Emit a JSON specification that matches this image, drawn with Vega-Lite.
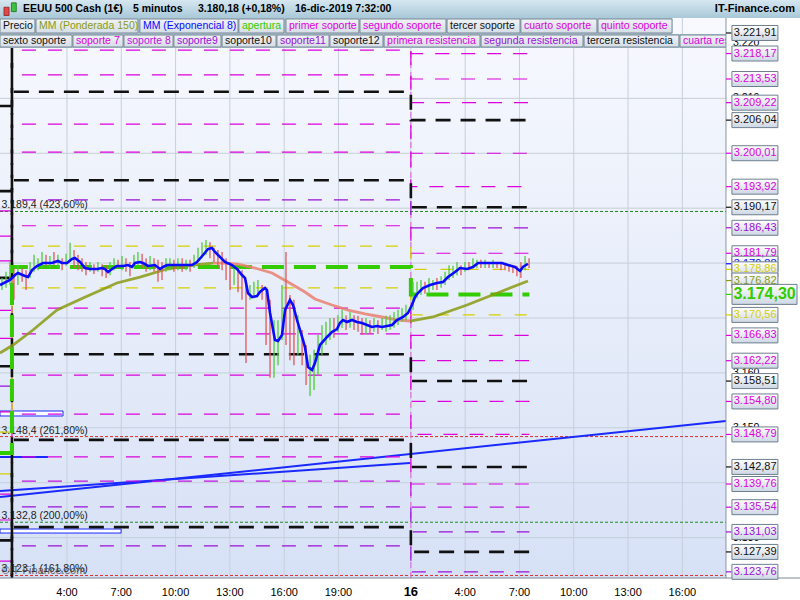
{
"$schema":"https://vega.github.io/schema/vega-lite/v6.json",
"width":800,"height":578,
"autosize":{"type":"none"},
"padding":{"left":0,"top":0,"right":0,"bottom":22},
"background":"#ffffff",
"config":{"view":{"stroke":null},"font":"Liberation Sans"},
"datasets":{
"one":[{}],
"barras":[
{"t":0.41,"hi":3177.3,"lo":3175.1,"d":"sube"},{"t":0.63,"hi":3178.4,"lo":3175.5,"d":"sube"},{"t":0.85,"hi":3180.2,"lo":3176.0,"d":"sube"},{"t":1.07,"hi":3179.1,"lo":3173.3,"d":"baja"},{"t":1.29,"hi":3179.6,"lo":3176.0,"d":"sube"},{"t":1.52,"hi":3179.1,"lo":3176.6,"d":"baja"},{"t":1.74,"hi":3178.7,"lo":3175.1,"d":"baja"},{"t":1.96,"hi":3180.2,"lo":3177.3,"d":"sube"},{"t":2.18,"hi":3181.5,"lo":3178.4,"d":"sube"},{"t":2.40,"hi":3180.9,"lo":3178.7,"d":"sube"},{"t":2.62,"hi":3182.0,"lo":3179.1,"d":"sube"},{"t":2.84,"hi":3181.5,"lo":3179.5,"d":"baja"},{"t":3.06,"hi":3181.3,"lo":3179.1,"d":"sube"},{"t":3.28,"hi":3182.0,"lo":3179.6,"d":"baja"},{"t":3.50,"hi":3181.5,"lo":3179.1,"d":"sube"},{"t":3.73,"hi":3180.9,"lo":3178.7,"d":"baja"},{"t":3.95,"hi":3181.7,"lo":3179.5,"d":"sube"},{"t":4.17,"hi":3183.7,"lo":3180.2,"d":"sube"},{"t":4.39,"hi":3182.4,"lo":3179.1,"d":"baja"},{"t":4.61,"hi":3181.5,"lo":3178.7,"d":"baja"},{"t":4.83,"hi":3180.9,"lo":3178.4,"d":"baja"},{"t":5.05,"hi":3180.2,"lo":3177.8,"d":"baja"},{"t":5.27,"hi":3180.2,"lo":3178.4,"d":"sube"},{"t":5.49,"hi":3179.8,"lo":3178.0,"d":"baja"},{"t":5.71,"hi":3180.2,"lo":3178.4,"d":"sube"},{"t":5.94,"hi":3179.8,"lo":3177.6,"d":"baja"},{"t":6.16,"hi":3179.6,"lo":3177.3,"d":"baja"},{"t":6.38,"hi":3180.2,"lo":3177.8,"d":"sube"},{"t":6.60,"hi":3180.9,"lo":3178.7,"d":"sube"},{"t":6.82,"hi":3180.6,"lo":3179.1,"d":"baja"},{"t":7.04,"hi":3181.3,"lo":3178.7,"d":"sube"},{"t":7.26,"hi":3180.9,"lo":3178.4,"d":"baja"},{"t":7.48,"hi":3180.2,"lo":3177.6,"d":"baja"},{"t":7.70,"hi":3181.5,"lo":3179.1,"d":"sube"},{"t":7.92,"hi":3182.0,"lo":3179.5,"d":"sube"},{"t":8.15,"hi":3181.7,"lo":3179.1,"d":"baja"},{"t":8.37,"hi":3180.9,"lo":3178.4,"d":"baja"},{"t":8.59,"hi":3181.3,"lo":3178.7,"d":"sube"},{"t":8.81,"hi":3180.9,"lo":3178.4,"d":"baja"},{"t":9.03,"hi":3180.6,"lo":3176.6,"d":"baja"},{"t":9.25,"hi":3180.2,"lo":3176.9,"d":"baja"},{"t":9.47,"hi":3180.9,"lo":3178.4,"d":"sube"},{"t":9.69,"hi":3180.9,"lo":3178.7,"d":"sube"},{"t":9.91,"hi":3180.6,"lo":3178.4,"d":"baja"},{"t":10.13,"hi":3180.9,"lo":3178.7,"d":"sube"},{"t":10.36,"hi":3180.9,"lo":3178.4,"d":"baja"},{"t":10.58,"hi":3180.6,"lo":3178.7,"d":"sube"},{"t":10.80,"hi":3180.6,"lo":3178.4,"d":"baja"},{"t":11.02,"hi":3181.5,"lo":3179.1,"d":"sube"},{"t":11.24,"hi":3182.8,"lo":3180.2,"d":"sube"},{"t":11.46,"hi":3183.8,"lo":3180.9,"d":"sube"},{"t":11.68,"hi":3184.2,"lo":3181.5,"d":"sube"},{"t":11.90,"hi":3183.8,"lo":3180.9,"d":"baja"},{"t":12.12,"hi":3182.8,"lo":3180.2,"d":"baja"},{"t":12.34,"hi":3182.4,"lo":3179.1,"d":"baja"},{"t":12.57,"hi":3182.0,"lo":3178.7,"d":"baja"},{"t":12.79,"hi":3180.9,"lo":3176.9,"d":"baja"},{"t":13.01,"hi":3180.2,"lo":3175.1,"d":"baja"},{"t":13.23,"hi":3179.6,"lo":3176.0,"d":"sube"},{"t":13.45,"hi":3179.1,"lo":3174.7,"d":"baja"},{"t":13.67,"hi":3178.7,"lo":3173.3,"d":"baja"},{"t":13.89,"hi":3176.9,"lo":3161.8,"d":"baja"},{"t":14.11,"hi":3176.0,"lo":3173.3,"d":"sube"},{"t":14.33,"hi":3176.6,"lo":3173.6,"d":"sube"},{"t":14.55,"hi":3176.9,"lo":3174.2,"d":"sube"},{"t":14.78,"hi":3176.0,"lo":3173.3,"d":"baja"},{"t":15.00,"hi":3175.1,"lo":3165.1,"d":"baja"},{"t":15.22,"hi":3173.3,"lo":3159.1,"d":"baja"},{"t":15.44,"hi":3169.6,"lo":3159.1,"d":"sube"},{"t":15.66,"hi":3169.6,"lo":3161.4,"d":"sube"},{"t":15.88,"hi":3176.0,"lo":3166.0,"d":"sube"},{"t":16.10,"hi":3182.0,"lo":3165.1,"d":"baja"},{"t":16.32,"hi":3174.2,"lo":3162.3,"d":"baja"},{"t":16.54,"hi":3173.3,"lo":3161.4,"d":"baja"},{"t":16.76,"hi":3170.5,"lo":3163.3,"d":"sube"},{"t":16.99,"hi":3167.8,"lo":3161.4,"d":"baja"},{"t":17.21,"hi":3165.1,"lo":3157.8,"d":"baja"},{"t":17.43,"hi":3163.3,"lo":3155.8,"d":"sube"},{"t":17.65,"hi":3164.2,"lo":3156.9,"d":"sube"},{"t":17.87,"hi":3166.9,"lo":3159.6,"d":"sube"},{"t":18.09,"hi":3168.7,"lo":3163.3,"d":"sube"},{"t":18.31,"hi":3169.3,"lo":3165.1,"d":"sube"},{"t":18.53,"hi":3170.0,"lo":3166.0,"d":"sube"},{"t":18.75,"hi":3170.0,"lo":3166.4,"d":"baja"},{"t":18.97,"hi":3170.5,"lo":3167.5,"d":"sube"},{"t":19.20,"hi":3171.5,"lo":3168.2,"d":"sube"},{"t":19.42,"hi":3170.5,"lo":3167.8,"d":"baja"},{"t":19.64,"hi":3171.1,"lo":3168.2,"d":"sube"},{"t":19.86,"hi":3170.5,"lo":3167.8,"d":"baja"},{"t":20.08,"hi":3170.4,"lo":3167.5,"d":"baja"},{"t":20.30,"hi":3170.0,"lo":3166.9,"d":"baja"},{"t":20.52,"hi":3170.0,"lo":3167.1,"d":"sube"},{"t":20.74,"hi":3169.6,"lo":3167.1,"d":"baja"},{"t":20.96,"hi":3170.0,"lo":3167.5,"d":"sube"},{"t":21.18,"hi":3169.6,"lo":3167.1,"d":"baja"},{"t":21.41,"hi":3170.0,"lo":3167.8,"d":"sube"},{"t":21.63,"hi":3170.4,"lo":3167.5,"d":"sube"},{"t":21.85,"hi":3170.5,"lo":3167.8,"d":"sube"},{"t":22.07,"hi":3171.1,"lo":3168.2,"d":"sube"},{"t":22.29,"hi":3171.5,"lo":3168.7,"d":"sube"},{"t":22.51,"hi":3171.8,"lo":3169.3,"d":"sube"},{"t":22.73,"hi":3172.4,"lo":3169.6,"d":"sube"},
{"t":23.12,"hi":3176.6,"lo":3171.5,"d":"sube"},{"t":23.34,"hi":3176.6,"lo":3173.6,"d":"sube"},{"t":23.56,"hi":3176.9,"lo":3174.2,"d":"sube"},{"t":23.78,"hi":3176.6,"lo":3174.4,"d":"baja"},{"t":24.00,"hi":3177.3,"lo":3174.7,"d":"sube"},{"t":24.22,"hi":3176.9,"lo":3175.1,"d":"sube"},{"t":24.44,"hi":3177.3,"lo":3175.1,"d":"baja"},{"t":24.67,"hi":3177.6,"lo":3175.5,"d":"sube"},{"t":24.89,"hi":3178.4,"lo":3176.0,"d":"sube"},{"t":25.11,"hi":3179.6,"lo":3176.9,"d":"sube"},{"t":25.33,"hi":3179.5,"lo":3177.3,"d":"sube"},{"t":25.55,"hi":3180.2,"lo":3177.8,"d":"sube"},{"t":25.77,"hi":3179.6,"lo":3177.8,"d":"baja"},{"t":25.99,"hi":3180.2,"lo":3178.4,"d":"sube"},{"t":26.21,"hi":3180.2,"lo":3178.7,"d":"baja"},{"t":26.43,"hi":3180.9,"lo":3179.1,"d":"sube"},{"t":26.65,"hi":3180.6,"lo":3179.1,"d":"sube"},{"t":26.87,"hi":3180.6,"lo":3179.1,"d":"baja"},{"t":27.10,"hi":3180.6,"lo":3179.1,"d":"sube"},{"t":27.32,"hi":3180.2,"lo":3179.1,"d":"baja"},{"t":27.54,"hi":3180.6,"lo":3179.1,"d":"sube"},{"t":27.76,"hi":3180.2,"lo":3179.1,"d":"baja"},{"t":27.98,"hi":3180.2,"lo":3178.7,"d":"baja"},{"t":28.20,"hi":3179.8,"lo":3178.7,"d":"baja"},{"t":28.42,"hi":3179.8,"lo":3178.4,"d":"baja"},{"t":28.64,"hi":3179.6,"lo":3178.2,"d":"baja"},{"t":28.86,"hi":3179.5,"lo":3177.6,"d":"baja"},{"t":29.08,"hi":3180.2,"lo":3177.3,"d":"baja"},{"t":29.31,"hi":3181.3,"lo":3178.7,"d":"sube"},{"t":29.53,"hi":3180.9,"lo":3179.1,"d":"baja"}
],
"ema":[{"t":0.30,"v":3176.01},{"t":0.85,"v":3176.92},{"t":1.13,"v":3177.83},{"t":1.29,"v":3178.19},{"t":1.68,"v":3177.65},{"t":1.85,"v":3177.46},{"t":2.07,"v":3178.74},{"t":2.34,"v":3179.47},{"t":2.68,"v":3180.01},{"t":3.17,"v":3180.01},{"t":3.50,"v":3180.38},{"t":3.73,"v":3180.01},{"t":4.00,"v":3180.01},{"t":4.28,"v":3180.74},{"t":4.44,"v":3180.93},{"t":4.72,"v":3180.20},{"t":5.00,"v":3179.10},{"t":5.27,"v":3178.92},{"t":5.66,"v":3178.92},{"t":5.94,"v":3179.10},{"t":6.10,"v":3178.92},{"t":6.27,"v":3178.37},{"t":6.49,"v":3178.92},{"t":6.76,"v":3179.47},{"t":7.10,"v":3179.47},{"t":7.37,"v":3179.65},{"t":7.59,"v":3179.29},{"t":7.76,"v":3180.01},{"t":8.03,"v":3180.20},{"t":8.20,"v":3180.01},{"t":8.48,"v":3179.47},{"t":8.86,"v":3179.65},{"t":9.14,"v":3178.92},{"t":9.31,"v":3179.29},{"t":9.53,"v":3179.65},{"t":10.08,"v":3179.65},{"t":10.63,"v":3179.65},{"t":10.91,"v":3179.65},{"t":11.18,"v":3180.20},{"t":11.52,"v":3181.47},{"t":11.79,"v":3182.56},{"t":12.01,"v":3182.75},{"t":12.18,"v":3182.02},{"t":12.73,"v":3180.20},{"t":13.12,"v":3179.65},{"t":13.39,"v":3178.92},{"t":13.67,"v":3177.83},{"t":13.84,"v":3177.28},{"t":14.00,"v":3174.55},{"t":14.22,"v":3173.82},{"t":14.50,"v":3174.00},{"t":14.66,"v":3174.73},{"t":14.94,"v":3175.46},{"t":15.05,"v":3175.10},{"t":15.22,"v":3170.91},{"t":15.49,"v":3165.99},{"t":15.66,"v":3165.81},{"t":15.88,"v":3166.90},{"t":16.05,"v":3171.45},{"t":16.32,"v":3173.27},{"t":16.49,"v":3172.36},{"t":16.71,"v":3169.63},{"t":16.99,"v":3166.54},{"t":17.15,"v":3164.71},{"t":17.32,"v":3161.07},{"t":17.54,"v":3160.52},{"t":17.70,"v":3161.80},{"t":17.98,"v":3165.08},{"t":18.37,"v":3166.54},{"t":18.64,"v":3167.45},{"t":18.92,"v":3167.99},{"t":19.08,"v":3169.09},{"t":19.25,"v":3169.63},{"t":19.47,"v":3169.27},{"t":19.75,"v":3169.63},{"t":20.02,"v":3169.27},{"t":20.30,"v":3169.09},{"t":20.58,"v":3168.72},{"t":20.85,"v":3168.36},{"t":21.13,"v":3168.54},{"t":21.40,"v":3168.36},{"t":21.68,"v":3168.54},{"t":21.96,"v":3168.72},{"t":22.23,"v":3169.63},{"t":22.57,"v":3170.18},{"t":22.84,"v":3170.91},{"t":23.06,"v":3172.36},{"t":23.23,"v":3173.82},{"t":23.39,"v":3174.55},{"t":23.67,"v":3175.46},{"t":24.06,"v":3176.01},{"t":24.44,"v":3176.37},{"t":24.78,"v":3176.56},{"t":25.05,"v":3177.46},{"t":25.44,"v":3178.37},{"t":25.71,"v":3179.10},{"t":26.10,"v":3178.92},{"t":26.43,"v":3179.29},{"t":26.71,"v":3180.01},{"t":27.10,"v":3180.01},{"t":27.65,"v":3180.01},{"t":28.03,"v":3180.01},{"t":28.37,"v":3179.65},{"t":28.75,"v":3179.29},{"t":29.03,"v":3178.56},{"t":29.19,"v":3179.29},{"t":29.47,"v":3179.88}],
"wma":[{"seg":1,"k":"oliva","t":0.30,"v":3163.62},{"seg":1,"k":"oliva","t":1.02,"v":3165.08},{"seg":1,"k":"oliva","t":2.12,"v":3167.81},{"seg":1,"k":"oliva","t":3.45,"v":3171.45},{"seg":1,"k":"oliva","t":4.89,"v":3173.64},{"seg":1,"k":"oliva","t":6.76,"v":3176.37},{"seg":1,"k":"oliva","t":8.03,"v":3177.46},{"seg":1,"k":"oliva","t":9.53,"v":3178.92},{"seg":1,"k":"oliva","t":10.96,"v":3179.65},{"seg":1,"k":"oliva","t":12.07,"v":3180.01},
{"seg":2,"k":"salmon","t":12.07,"v":3180.01},{"seg":2,"k":"salmon","t":12.73,"v":3180.01},{"seg":2,"k":"salmon","t":13.45,"v":3179.83},{"seg":2,"k":"salmon","t":14.39,"v":3179.10},{"seg":2,"k":"salmon","t":15.33,"v":3178.19},{"seg":2,"k":"salmon","t":16.21,"v":3176.55},{"seg":2,"k":"salmon","t":17.15,"v":3174.73},{"seg":2,"k":"salmon","t":17.70,"v":3173.46},{"seg":2,"k":"salmon","t":18.64,"v":3172.36},{"seg":2,"k":"salmon","t":19.53,"v":3171.45},{"seg":2,"k":"salmon","t":20.47,"v":3170.73},{"seg":2,"k":"salmon","t":21.40,"v":3170.18},{"seg":2,"k":"salmon","t":22.29,"v":3169.63},{"seg":2,"k":"salmon","t":22.95,"v":3169.45},
{"seg":3,"k":"oliva","t":22.95,"v":3169.45},{"seg":3,"k":"oliva","t":24.22,"v":3170.18},{"seg":3,"k":"oliva","t":26.10,"v":3172.36},{"seg":3,"k":"oliva","t":27.92,"v":3174.73},{"seg":3,"k":"oliva","t":29.47,"v":3176.74}],
"niveles":[
{"s":0,"k":"negro","t":0.3,"v":3208.6},{"s":0,"k":"negro","t":0.96,"v":3242.5},{"s":0,"k":"negro","t":23.0,"v":3237.8},{"s":0,"k":"negro","t":29.55,"v":3237.8},
{"s":1,"k":"negro","t":0.3,"v":3193.1},{"s":1,"k":"negro","t":0.96,"v":3227.0},{"s":1,"k":"negro","t":23.0,"v":3221.91},{"s":1,"k":"negro","t":29.55,"v":3221.91},
{"s":2,"k":"magenta","t":0.3,"v":3189.5},{"s":2,"k":"magenta","t":0.96,"v":3223.4},{"s":2,"k":"magenta","t":23.0,"v":3218.17},{"s":2,"k":"magenta","t":29.55,"v":3218.17},
{"s":3,"k":"magenta","t":0.3,"v":3184.9},{"s":3,"k":"magenta","t":0.96,"v":3218.8},{"s":3,"k":"magenta","t":23.0,"v":3213.53},{"s":3,"k":"magenta","t":29.55,"v":3213.53},
{"s":4,"k":"magenta","t":0.3,"v":3180.4},{"s":4,"k":"magenta","t":0.96,"v":3214.3},{"s":4,"k":"magenta","t":23.0,"v":3209.22},{"s":4,"k":"magenta","t":29.55,"v":3209.22},
{"s":5,"k":"negro","t":0.3,"v":3177.3},{"s":5,"k":"negro","t":0.96,"v":3211.2},{"s":5,"k":"negro","t":23.0,"v":3206.04},{"s":5,"k":"negro","t":29.55,"v":3206.04},
{"s":6,"k":"magenta","t":0.3,"v":3171.4},{"s":6,"k":"magenta","t":0.96,"v":3205.3},{"s":6,"k":"magenta","t":23.0,"v":3200.01},{"s":6,"k":"magenta","t":29.55,"v":3200.01},
{"s":7,"k":"magenta","t":0.3,"v":3166.3},{"s":7,"k":"magenta","t":0.96,"v":3200.2},{"s":7,"k":"magenta","t":23.0,"v":3193.92},{"s":7,"k":"magenta","t":29.55,"v":3193.92},
{"s":8,"k":"negro","t":0.3,"v":3161.2},{"s":8,"k":"negro","t":0.96,"v":3195.1},{"s":8,"k":"negro","t":23.0,"v":3190.17},{"s":8,"k":"negro","t":29.55,"v":3190.17},
{"s":9,"k":"morado","t":0.3,"v":3157.6},{"s":9,"k":"morado","t":0.96,"v":3191.5},{"s":9,"k":"morado","t":23.0,"v":3186.43},{"s":9,"k":"morado","t":29.55,"v":3186.43},
{"s":10,"k":"magenta","t":0.3,"v":3152.9},{"s":10,"k":"magenta","t":0.96,"v":3186.8},{"s":10,"k":"magenta","t":23.0,"v":3181.79},{"s":10,"k":"magenta","t":29.55,"v":3181.79},
{"s":11,"k":"amarillo","t":0.3,"v":3149.2},{"s":11,"k":"amarillo","t":0.96,"v":3183.1},{"s":11,"k":"amarillo","t":23.0,"v":3178.86},{"s":11,"k":"amarillo","t":29.55,"v":3178.86},
{"s":12,"k":"verde","t":0.3,"v":3145.4},{"s":12,"k":"verde","t":0.96,"v":3179.3},{"s":12,"k":"verde","t":23.0,"v":3174.30},{"s":12,"k":"verde","t":29.55,"v":3174.30},
{"s":13,"k":"amarillo","t":0.3,"v":3141.6},{"s":13,"k":"amarillo","t":0.96,"v":3175.5},{"s":13,"k":"amarillo","t":23.0,"v":3170.56},{"s":13,"k":"amarillo","t":29.55,"v":3170.56},
{"s":14,"k":"magenta","t":0.3,"v":3137.9},{"s":14,"k":"magenta","t":0.96,"v":3171.8},{"s":14,"k":"magenta","t":23.0,"v":3166.83},{"s":14,"k":"magenta","t":29.55,"v":3166.83},
{"s":15,"k":"magenta","t":0.3,"v":3133.2},{"s":15,"k":"magenta","t":0.96,"v":3167.1},{"s":15,"k":"magenta","t":23.0,"v":3162.22},{"s":15,"k":"magenta","t":29.55,"v":3162.22},
{"s":16,"k":"negro","t":0.3,"v":3129.5},{"s":16,"k":"negro","t":0.96,"v":3163.4},{"s":16,"k":"negro","t":23.0,"v":3158.51},{"s":16,"k":"negro","t":29.55,"v":3158.51},
{"s":17,"k":"magenta","t":0.3,"v":3125.7},{"s":17,"k":"magenta","t":0.96,"v":3159.6},{"s":17,"k":"magenta","t":23.0,"v":3154.80},{"s":17,"k":"magenta","t":29.55,"v":3154.80},
{"s":18,"k":"magenta","t":0.3,"v":3118.6},{"s":18,"k":"magenta","t":0.96,"v":3152.5},{"s":18,"k":"magenta","t":23.0,"v":3148.79},{"s":18,"k":"magenta","t":29.55,"v":3148.79},
{"s":19,"k":"negro","t":0.3,"v":3113.9},{"s":19,"k":"negro","t":0.96,"v":3147.8},{"s":19,"k":"negro","t":23.0,"v":3142.87},{"s":19,"k":"negro","t":29.55,"v":3142.87},
{"s":20,"k":"magenta","t":0.3,"v":3110.8},{"s":20,"k":"magenta","t":0.96,"v":3144.7},{"s":20,"k":"magenta","t":23.0,"v":3139.76},{"s":20,"k":"magenta","t":29.55,"v":3139.76},
{"s":21,"k":"morado2","t":0.3,"v":3106.4},{"s":21,"k":"morado2","t":0.96,"v":3140.3},{"s":21,"k":"morado2","t":23.0,"v":3135.54},{"s":21,"k":"morado2","t":29.55,"v":3135.54},
{"s":22,"k":"morado","t":0.3,"v":3101.7},{"s":22,"k":"morado","t":0.96,"v":3135.6},{"s":22,"k":"morado","t":23.0,"v":3131.03},{"s":22,"k":"morado","t":29.55,"v":3131.03},
{"s":23,"k":"negro","t":0.3,"v":3098.0},{"s":23,"k":"negro","t":0.96,"v":3131.9},{"s":23,"k":"negro","t":23.0,"v":3127.39},{"s":23,"k":"negro","t":29.55,"v":3127.39},
{"s":24,"k":"morado","t":0.3,"v":3094.6},{"s":24,"k":"morado","t":0.96,"v":3128.5},{"s":24,"k":"morado","t":23.0,"v":3123.76},{"s":24,"k":"morado","t":29.55,"v":3123.76}
],
"fibo":[{"v":3189.4,"lab":"3.189,4 (423,60%)","k":"verdeos"},{"v":3148.4,"lab":"3.148,4 (261,80%)","k":"rojo"},{"v":3132.8,"lab":"3.132,8 (200,00%)","k":"verdeos"},{"v":3123.1,"lab":"3.123,1 (161,80%)","k":"rojo"}],
"tendencias":[{"s":"a","t":0.3,"v":3137.39},{"s":"a","t":40.41,"v":3151.24},{"s":"b","t":0.3,"v":3138.48},{"s":"b","t":22.95,"v":3143.58},{"s":"c","t":0.3,"v":3144.68},{"s":"c","t":2.95,"v":3144.68}],
"zonas":[{"t0":0.3,"t1":3.78,"v0":3152.15,"v1":3153.06},{"t0":0.3,"t1":6.99,"v0":3130.83,"v1":3131.56}],
"ticksx":[{"t":4,"lab":"4:00"},{"t":7,"lab":"7:00"},{"t":10,"lab":"10:00"},{"t":13,"lab":"13:00"},{"t":16,"lab":"16:00"},{"t":19,"lab":"19:00"},{"t":23,"lab":"16"},{"t":26,"lab":"4:00"},{"t":29,"lab":"7:00"},{"t":32,"lab":"10:00"},{"t":35,"lab":"13:00"},{"t":38,"lab":"16:00"}],
"gridy":[{"v":3130,"lab":"3.130"},{"v":3140,"lab":"3.140"},{"v":3150,"lab":"3.150"},{"v":3160,"lab":"3.160"},{"v":3170,"lab":"3.170"},{"v":3180,"lab":"3.180"},{"v":3190,"lab":"3.190"},{"v":3200,"lab":"3.200"},{"v":3210,"lab":"3.210"},{"v":3220,"lab":"3.220"}],
"cajas":[{"v":3221.91,"lab":"3.221,91","k":"negro"},{"v":3218.17,"lab":"3.218,17","k":"magenta"},{"v":3213.53,"lab":"3.213,53","k":"magenta"},{"v":3209.22,"lab":"3.209,22","k":"magenta"},{"v":3206.04,"lab":"3.206,04","k":"negro"},{"v":3200.01,"lab":"3.200,01","k":"magenta"},{"v":3193.92,"lab":"3.193,92","k":"magenta"},{"v":3190.17,"lab":"3.190,17","k":"negro"},{"v":3186.43,"lab":"3.186,43","k":"morado"},{"v":3181.79,"lab":"3.181,79","k":"magenta"},{"v":3179.88,"lab":"3.179,88","k":"azul"},{"v":3178.86,"lab":"3.178,86","k":"amarillo"},{"v":3176.82,"lab":"3.176,82","k":"oliva"},{"v":3174.30,"lab":"3.174,30","k":"verde"},{"v":3170.56,"lab":"3.170,56","k":"amarillo"},{"v":3166.83,"lab":"3.166,83","k":"magenta"},{"v":3162.22,"lab":"3.162,22","k":"magenta"},{"v":3158.51,"lab":"3.158,51","k":"negro"},{"v":3154.80,"lab":"3.154,80","k":"magenta"},{"v":3148.79,"lab":"3.148,79","k":"magenta"},{"v":3142.87,"lab":"3.142,87","k":"negro"},{"v":3139.76,"lab":"3.139,76","k":"magenta"},{"v":3135.54,"lab":"3.135,54","k":"morado2"},{"v":3131.03,"lab":"3.131,03","k":"morado"},{"v":3127.39,"lab":"3.127,39","k":"negro"},{"v":3123.76,"lab":"3.123,76","k":"morado"}],
"leyenda":[
{"fila":1,"a":0.30,"b":2.23,"lab":"Precio","k":"negro"},{"fila":1,"a":2.29,"b":7.92,"lab":"MM (Ponderada 150)","k":"oliva"},{"fila":1,"a":8.03,"b":13.45,"lab":"MM (Exponencial 8)","k":"azul"},{"fila":1,"a":13.50,"b":15.99,"lab":"apertura","k":"verde"},{"fila":1,"a":16.10,"b":20.13,"lab":"primer soporte","k":"magenta"},{"fila":1,"a":20.19,"b":24.94,"lab":"segundo soporte","k":"magenta"},{"fila":1,"a":25.00,"b":29.03,"lab":"tercer soporte","k":"negro"},{"fila":1,"a":29.08,"b":33.28,"lab":"cuarto soporte","k":"magenta"},{"fila":1,"a":33.34,"b":37.43,"lab":"quinto soporte","k":"magenta"},
{"fila":2,"a":0.30,"b":4.28,"lab":"sexto soporte","k":"negro"},{"fila":2,"a":4.33,"b":7.10,"lab":"soporte 7","k":"magenta"},{"fila":2,"a":7.15,"b":9.86,"lab":"soporte 8","k":"morado2"},{"fila":2,"a":9.91,"b":12.51,"lab":"soporte9","k":"morado"},{"fila":2,"a":12.57,"b":15.55,"lab":"soporte10","k":"negro"},{"fila":2,"a":15.60,"b":18.48,"lab":"soporte11","k":"morado"},{"fila":2,"a":18.53,"b":21.46,"lab":"soporte12","k":"negro"},{"fila":2,"a":21.52,"b":26.82,"lab":"primera resistencia","k":"magenta"},{"fila":2,"a":26.88,"b":32.51,"lab":"segunda resistencia","k":"morado"},{"fila":2,"a":32.57,"b":37.81,"lab":"tercera resistencia","k":"negro"},{"fila":2,"a":37.87,"b":41.5,"lab":"cuarta resistencia","k":"magenta"}
]
},
"layer":[
{"data":{"name":"one"},"mark":{"type":"rect","fill":{"gradient":"linear","x1":0,"y1":0,"x2":0,"y2":1,"stops":[{"offset":0,"color":"#f7f9fe"},{"offset":1,"color":"#d7e1f6"}]}},
 "encoding":{"x":{"datum":0.3,"type":"quantitative","scale":{"domain":[0.3,44.5],"nice":false,"zero":false},"axis":null},"x2":{"datum":40.41},"y":{"datum":3224.64,"type":"quantitative","scale":{"domain":[3122.64,3227.92],"nice":false,"zero":false},"axis":null},"y2":{"datum":3122.64}}},
{"data":{"name":"gridy"},"mark":{"type":"rule","color":"#c6cfdb","strokeWidth":1},
 "encoding":{"y":{"field":"v","type":"quantitative","scale":{"domain":[3122.64,3227.92],"nice":false,"zero":false},"axis":null},"x":{"datum":0.3,"type":"quantitative","scale":{"domain":[0.3,44.5],"nice":false,"zero":false},"axis":null},"x2":{"datum":40.41}}},
{"data":{"name":"ticksx"},"mark":{"type":"rule","color":"#c6cfdb","strokeWidth":1},
 "encoding":{"x":{"field":"t","type":"quantitative","scale":{"domain":[0.3,44.5],"nice":false,"zero":false},"axis":null},"y":{"datum":3122.64,"type":"quantitative","scale":{"domain":[3122.64,3227.92],"nice":false,"zero":false},"axis":null},"y2":{"datum":3224.64}}},
{"data":{"name":"fibo"},"mark":{"type":"rule","strokeDash":[3,2],"strokeWidth":1},
 "encoding":{"y":{"field":"v","type":"quantitative","scale":{"domain":[3122.64,3227.92],"nice":false,"zero":false},"axis":null},"x":{"datum":0.3,"type":"quantitative","scale":{"domain":[0.3,44.5],"nice":false,"zero":false},"axis":null},"x2":{"datum":40.41},
 "color":{"field":"k","type":"nominal","legend":null,"scale":{"domain":["negro","magenta","morado","morado2","amarillo","verde","oliva","azul","salmon","sube","baja","verdeos","rojo"],"range":["#111111","#dd00dd","#9a10d8","#c010e0","#d6cf00","#33cc00","#8a9a12","#0a0aff","#e8806e","#4dcc3a","#e05858","#1f8a1f","#e03030"]}}}},
{"data":{"name":"fibo"},"mark":{"type":"text","align":"left","baseline":"bottom","dy":-1,"fontSize":10.5,"color":"#222222"},
 "encoding":{"y":{"field":"v","type":"quantitative","scale":{"domain":[3122.64,3227.92],"nice":false,"zero":false},"axis":null},"x":{"datum":0.38,"type":"quantitative","scale":{"domain":[0.3,44.5],"nice":false,"zero":false},"axis":null},"text":{"field":"lab"}}},
{"data":{"name":"zonas"},"mark":{"type":"rect","fill":"#ffffff","stroke":"#1a2aff","strokeWidth":1},
 "encoding":{"x":{"field":"t0","type":"quantitative","scale":{"domain":[0.3,44.5],"nice":false,"zero":false},"axis":null},"x2":{"field":"t1"},"y":{"field":"v0","type":"quantitative","scale":{"domain":[3122.64,3227.92],"nice":false,"zero":false},"axis":null},"y2":{"field":"v1"}}},
{"data":{"name":"tendencias"},"mark":{"type":"line","color":"#1a2aff","strokeWidth":2},
 "encoding":{"x":{"field":"t","type":"quantitative","scale":{"domain":[0.3,44.5],"nice":false,"zero":false},"axis":null},"y":{"field":"v","type":"quantitative","scale":{"domain":[3122.64,3227.92],"nice":false,"zero":false},"axis":null},"detail":{"field":"s"}}},
{"data":{"name":"one"},"mark":{"type":"rule","color":"#e070e0","strokeWidth":1.2,"strokeDash":[6,4]},
 "encoding":{"x":{"datum":23.0,"type":"quantitative","scale":{"domain":[0.3,44.5],"nice":false,"zero":false},"axis":null},"y":{"datum":3122.64,"type":"quantitative","scale":{"domain":[3122.64,3227.92],"nice":false,"zero":false},"axis":null},"y2":{"datum":3221.7}}},
{"data":{"name":"niveles"},"transform":[{"filter":"datum.k=='magenta'||datum.k=='morado'||datum.k=='morado2'"}],"mark":{"type":"line","interpolate":"step-after","strokeWidth":1.2,"strokeDash":[14,12],"clip":true},
 "encoding":{"x":{"field":"t","type":"quantitative","scale":{"domain":[0.3,44.5],"nice":false,"zero":false},"axis":null},"y":{"field":"v","type":"quantitative","scale":{"domain":[3122.64,3227.92],"nice":false,"zero":false},"axis":null},"detail":{"field":"s"},
 "color":{"field":"k","type":"nominal","legend":null,"scale":{"domain":["negro","magenta","morado","morado2","amarillo","verde","oliva","azul","salmon","sube","baja","verdeos","rojo"],"range":["#111111","#dd00dd","#9a10d8","#c010e0","#d6cf00","#33cc00","#8a9a12","#0a0aff","#e8806e","#4dcc3a","#e05858","#1f8a1f","#e03030"]}}}},
{"data":{"name":"niveles"},"transform":[{"filter":"datum.k=='amarillo'"}],"mark":{"type":"line","interpolate":"step-after","strokeWidth":1.3,"strokeDash":[12,14],"clip":true},
 "encoding":{"x":{"field":"t","type":"quantitative","scale":{"domain":[0.3,44.5],"nice":false,"zero":false},"axis":null},"y":{"field":"v","type":"quantitative","scale":{"domain":[3122.64,3227.92],"nice":false,"zero":false},"axis":null},"detail":{"field":"s"},
 "color":{"field":"k","type":"nominal","legend":null,"scale":{"domain":["negro","magenta","morado","morado2","amarillo","verde","oliva","azul","salmon","sube","baja","verdeos","rojo"],"range":["#111111","#dd00dd","#9a10d8","#c010e0","#d6cf00","#33cc00","#8a9a12","#0a0aff","#e8806e","#4dcc3a","#e05858","#1f8a1f","#e03030"]}}}},
{"data":{"name":"niveles"},"transform":[{"filter":"datum.k=='negro'"}],"mark":{"type":"line","interpolate":"step-after","strokeWidth":2.6,"strokeDash":[15,10],"clip":true},
 "encoding":{"x":{"field":"t","type":"quantitative","scale":{"domain":[0.3,44.5],"nice":false,"zero":false},"axis":null},"y":{"field":"v","type":"quantitative","scale":{"domain":[3122.64,3227.92],"nice":false,"zero":false},"axis":null},"detail":{"field":"s"},
 "color":{"field":"k","type":"nominal","legend":null,"scale":{"domain":["negro","magenta","morado","morado2","amarillo","verde","oliva","azul","salmon","sube","baja","verdeos","rojo"],"range":["#111111","#dd00dd","#9a10d8","#c010e0","#d6cf00","#33cc00","#8a9a12","#0a0aff","#e8806e","#4dcc3a","#e05858","#1f8a1f","#e03030"]}}}},
{"data":{"name":"niveles"},"transform":[{"filter":"datum.k=='verde'"}],"mark":{"type":"line","interpolate":"step-after","strokeWidth":4,"strokeDash":[22,10],"clip":true},
 "encoding":{"x":{"field":"t","type":"quantitative","scale":{"domain":[0.3,44.5],"nice":false,"zero":false},"axis":null},"y":{"field":"v","type":"quantitative","scale":{"domain":[3122.64,3227.92],"nice":false,"zero":false},"axis":null},"detail":{"field":"s"},
 "color":{"field":"k","type":"nominal","legend":null,"scale":{"domain":["negro","magenta","morado","morado2","amarillo","verde","oliva","azul","salmon","sube","baja","verdeos","rojo"],"range":["#111111","#dd00dd","#9a10d8","#c010e0","#d6cf00","#33cc00","#8a9a12","#0a0aff","#e8806e","#4dcc3a","#e05858","#1f8a1f","#e03030"]}}}},
{"data":{"name":"wma"},"mark":{"type":"line","strokeWidth":2.8,"opacity":0.85},
 "encoding":{"x":{"field":"t","type":"quantitative","scale":{"domain":[0.3,44.5],"nice":false,"zero":false},"axis":null},"y":{"field":"v","type":"quantitative","scale":{"domain":[3122.64,3227.92],"nice":false,"zero":false},"axis":null},"detail":{"field":"seg"},
 "color":{"field":"k","type":"nominal","legend":null,"scale":{"domain":["negro","magenta","morado","morado2","amarillo","verde","oliva","azul","salmon","sube","baja","verdeos","rojo"],"range":["#111111","#dd00dd","#9a10d8","#c010e0","#d6cf00","#33cc00","#8a9a12","#0a0aff","#e8806e","#4dcc3a","#e05858","#1f8a1f","#e03030"]}}}},
{"data":{"name":"barras"},"mark":{"type":"rule","strokeWidth":1.3},
 "encoding":{"x":{"field":"t","type":"quantitative","scale":{"domain":[0.3,44.5],"nice":false,"zero":false},"axis":null},
  "y":{"field":"hi","type":"quantitative","scale":{"domain":[3122.64,3227.92],"nice":false,"zero":false},"axis":null},"y2":{"field":"lo"},
  "color":{"field":"d","type":"nominal","legend":null,"scale":{"domain":["negro","magenta","morado","morado2","amarillo","verde","oliva","azul","salmon","sube","baja","verdeos","rojo"],"range":["#111111","#dd00dd","#9a10d8","#c010e0","#d6cf00","#33cc00","#8a9a12","#0a0aff","#e8806e","#4dcc3a","#e05858","#1f8a1f","#e03030"]}}}},
{"data":{"name":"ema"},"mark":{"type":"line","color":"#0a0aff","strokeWidth":2.6},
 "encoding":{"x":{"field":"t","type":"quantitative","scale":{"domain":[0.3,44.5],"nice":false,"zero":false},"axis":null},"y":{"field":"v","type":"quantitative","scale":{"domain":[3122.64,3227.92],"nice":false,"zero":false},"axis":null}}},
{"data":{"name":"one"},"mark":{"type":"text","align":"left","baseline":"bottom","dy":-2,"fontSize":11,"color":"#444444","opacity":0.8},
 "encoding":{"x":{"datum":0.38,"type":"quantitative","scale":{"domain":[0.3,44.5],"nice":false,"zero":false},"axis":null},"y":{"datum":3122.64,"type":"quantitative","scale":{"domain":[3122.64,3227.92],"nice":false,"zero":false},"axis":null},"text":{"value":"©IT-Finance.com"}}},
{"data":{"name":"one"},"mark":{"type":"rect","fill":"#a9c2d1"},
 "encoding":{"x":{"datum":0.3,"type":"quantitative","scale":{"domain":[0.3,44.5],"nice":false,"zero":false},"axis":null},"x2":{"datum":37.45},"y":{"datum":3224.64,"type":"quantitative","scale":{"domain":[3122.64,3227.92],"nice":false,"zero":false},"axis":null},"y2":{"datum":3221.73}}},
{"data":{"name":"one"},"mark":{"type":"rect","fill":"#a9c2d1"},
 "encoding":{"x":{"datum":0.3,"type":"quantitative","scale":{"domain":[0.3,44.5],"nice":false,"zero":false},"axis":null},"x2":{"datum":40.41},"y":{"datum":3221.73,"type":"quantitative","scale":{"domain":[3122.64,3227.92],"nice":false,"zero":false},"axis":null},"y2":{"datum":3219.18}}},
{"data":{"name":"leyenda"},"transform":[{"filter":"datum.fila == 1"}],"mark":{"type":"rect","stroke":"#7b8b98","strokeWidth":1,"fill":{"gradient":"linear","x1":0,"y1":0,"x2":0,"y2":1,"stops":[{"offset":0,"color":"#f0f3f7"},{"offset":1,"color":"#d5dde6"}]}},
 "encoding":{"x":{"field":"a","type":"quantitative","scale":{"domain":[0.3,44.5],"nice":false,"zero":false},"axis":null},"x2":{"field":"b"},"y":{"datum":3224.46,"type":"quantitative","scale":{"domain":[3122.64,3227.92],"nice":false,"zero":false},"axis":null},"y2":{"datum":3221.91}}},
{"data":{"name":"leyenda"},"transform":[{"filter":"datum.fila == 2"}],"mark":{"type":"rect","stroke":"#7b8b98","strokeWidth":1,"fill":{"gradient":"linear","x1":0,"y1":0,"x2":0,"y2":1,"stops":[{"offset":0,"color":"#f0f3f7"},{"offset":1,"color":"#d5dde6"}]}},
 "encoding":{"x":{"field":"a","type":"quantitative","scale":{"domain":[0.3,44.5],"nice":false,"zero":false},"axis":null},"x2":{"field":"b"},"y":{"datum":3221.54,"type":"quantitative","scale":{"domain":[3122.64,3227.92],"nice":false,"zero":false},"axis":null},"y2":{"datum":3219.36}}},
{"data":{"name":"leyenda"},"transform":[{"filter":"datum.fila == 1"}],"mark":{"type":"text","align":"left","baseline":"middle","dx":3,"fontSize":10.5},
 "encoding":{"x":{"field":"a","type":"quantitative","scale":{"domain":[0.3,44.5],"nice":false,"zero":false},"axis":null},"y":{"datum":3223.15,"type":"quantitative","scale":{"domain":[3122.64,3227.92],"nice":false,"zero":false},"axis":null},"text":{"field":"lab"},
 "color":{"field":"k","type":"nominal","legend":null,"scale":{"domain":["negro","magenta","morado","morado2","amarillo","verde","oliva","azul","salmon","sube","baja","verdeos","rojo"],"range":["#111111","#dd00dd","#9a10d8","#c010e0","#d6cf00","#33cc00","#8a9a12","#0a0aff","#e8806e","#4dcc3a","#e05858","#1f8a1f","#e03030"]}}}},
{"data":{"name":"leyenda"},"transform":[{"filter":"datum.fila == 2"}],"mark":{"type":"text","align":"left","baseline":"middle","dx":3,"fontSize":10.5},
 "encoding":{"x":{"field":"a","type":"quantitative","scale":{"domain":[0.3,44.5],"nice":false,"zero":false},"axis":null},"y":{"datum":3220.45,"type":"quantitative","scale":{"domain":[3122.64,3227.92],"nice":false,"zero":false},"axis":null},"text":{"field":"lab"},
 "color":{"field":"k","type":"nominal","legend":null,"scale":{"domain":["negro","magenta","morado","morado2","amarillo","verde","oliva","azul","salmon","sube","baja","verdeos","rojo"],"range":["#111111","#dd00dd","#9a10d8","#c010e0","#d6cf00","#33cc00","#8a9a12","#0a0aff","#e8806e","#4dcc3a","#e05858","#1f8a1f","#e03030"]}}}},
{"data":{"name":"one"},"mark":{"type":"rect","fill":"#ffffff"},
 "encoding":{"x":{"datum":40.41,"type":"quantitative","scale":{"domain":[0.3,44.5],"nice":false,"zero":false},"axis":null},"x2":{"datum":44.5},"y":{"datum":3122.64,"type":"quantitative","scale":{"domain":[3122.64,3227.92],"nice":false,"zero":false},"axis":null},"y2":{"datum":3227.92}}},
{"data":{"name":"one"},"mark":{"type":"rule","color":"#8896a3","strokeWidth":1},
 "encoding":{"x":{"datum":40.41,"type":"quantitative","scale":{"domain":[0.3,44.5],"nice":false,"zero":false},"axis":null},"y":{"datum":3122.64,"type":"quantitative","scale":{"domain":[3122.64,3227.92],"nice":false,"zero":false},"axis":null},"y2":{"datum":3227.92}}},
{"data":{"name":"one"},"mark":{"type":"rule","color":"#7d8894","strokeWidth":1},
 "encoding":{"x":{"datum":0.3,"type":"quantitative","scale":{"domain":[0.3,44.5],"nice":false,"zero":false},"axis":null},"x2":{"datum":44.5},"y":{"datum":3122.64,"type":"quantitative","scale":{"domain":[3122.64,3227.92],"nice":false,"zero":false},"axis":null}}},
{"data":{"name":"ticksx"},"transform":[{"filter":"datum.t != 23"}],"mark":{"type":"text","align":"center","baseline":"top","fontSize":11,"color":"#000000"},
 "encoding":{"x":{"field":"t","type":"quantitative","scale":{"domain":[0.3,44.5],"nice":false,"zero":false},"axis":null},"y":{"datum":3121.05,"type":"quantitative","scale":{"domain":[3122.64,3227.92],"nice":false,"zero":false},"axis":null},"text":{"field":"lab"}}},
{"data":{"name":"ticksx"},"transform":[{"filter":"datum.t == 23"}],"mark":{"type":"text","align":"center","baseline":"top","fontSize":13,"fontWeight":"bold","color":"#000000"},
 "encoding":{"x":{"field":"t","type":"quantitative","scale":{"domain":[0.3,44.5],"nice":false,"zero":false},"axis":null},"y":{"datum":3121.25,"type":"quantitative","scale":{"domain":[3122.64,3227.92],"nice":false,"zero":false},"axis":null},"text":{"field":"lab"}}},
{"data":{"name":"one"},"mark":{"type":"rect","fill":{"gradient":"linear","x1":0,"y1":0,"x2":0,"y2":1,"stops":[{"offset":0,"color":"#d6e7f0"},{"offset":1,"color":"#a9c8d8"}]}},
 "encoding":{"x":{"datum":0.3,"type":"quantitative","scale":{"domain":[0.3,44.5],"nice":false,"zero":false},"axis":null},"x2":{"datum":44.5},"y":{"datum":3227.92,"type":"quantitative","scale":{"domain":[3122.64,3227.92],"nice":false,"zero":false},"axis":null},"y2":{"datum":3224.64}}},
{"data":{"name":"one"},"mark":{"type":"rect","fill":"#e04848","stroke":"#902020","strokeWidth":0.8},
 "encoding":{"x":{"datum":0.52,"type":"quantitative","scale":{"domain":[0.3,44.5],"nice":false,"zero":false},"axis":null},"x2":{"datum":0.8},"y":{"datum":3226.6,"type":"quantitative","scale":{"domain":[3122.64,3227.92],"nice":false,"zero":false},"axis":null},"y2":{"datum":3225.1}}},
{"data":{"name":"one"},"mark":{"type":"rect","fill":"#40c040","stroke":"#207020","strokeWidth":0.8},
 "encoding":{"x":{"datum":0.93,"type":"quantitative","scale":{"domain":[0.3,44.5],"nice":false,"zero":false},"axis":null},"x2":{"datum":1.2},"y":{"datum":3227.4,"type":"quantitative","scale":{"domain":[3122.64,3227.92],"nice":false,"zero":false},"axis":null},"y2":{"datum":3225.8}}},
{"data":{"name":"one"},"mark":{"type":"text","align":"left","baseline":"middle","fontSize":10.5,"fontWeight":"bold","color":"#000000"},
 "encoding":{"x":{"datum":1.57,"type":"quantitative","scale":{"domain":[0.3,44.5],"nice":false,"zero":false},"axis":null},"y":{"datum":3226.2,"type":"quantitative","scale":{"domain":[3122.64,3227.92],"nice":false,"zero":false},"axis":null},"text":{"value":"EEUU 500 Cash (1€)"}}},
{"data":{"name":"one"},"mark":{"type":"text","align":"left","baseline":"middle","fontSize":10.5,"fontWeight":"bold","color":"#000000"},
 "encoding":{"x":{"datum":7.65,"type":"quantitative","scale":{"domain":[0.3,44.5],"nice":false,"zero":false},"axis":null},"y":{"datum":3226.2,"type":"quantitative","scale":{"domain":[3122.64,3227.92],"nice":false,"zero":false},"axis":null},"text":{"value":"5 minutos"}}},
{"data":{"name":"one"},"mark":{"type":"text","align":"left","baseline":"middle","fontSize":10.5,"fontWeight":"bold","color":"#000000"},
 "encoding":{"x":{"datum":11.24,"type":"quantitative","scale":{"domain":[0.3,44.5],"nice":false,"zero":false},"axis":null},"y":{"datum":3226.2,"type":"quantitative","scale":{"domain":[3122.64,3227.92],"nice":false,"zero":false},"axis":null},"text":{"value":"3.180,18 (+0,18%)"}}},
{"data":{"name":"one"},"mark":{"type":"text","align":"left","baseline":"middle","fontSize":10.5,"fontWeight":"bold","color":"#000000"},
 "encoding":{"x":{"datum":16.6,"type":"quantitative","scale":{"domain":[0.3,44.5],"nice":false,"zero":false},"axis":null},"y":{"datum":3226.2,"type":"quantitative","scale":{"domain":[3122.64,3227.92],"nice":false,"zero":false},"axis":null},"text":{"value":"16-dic-2019 7:32:00"}}},
{"data":{"name":"one"},"mark":{"type":"text","align":"right","baseline":"middle","fontSize":11,"fontWeight":"bold","color":"#000000"},
 "encoding":{"x":{"datum":44.22,"type":"quantitative","scale":{"domain":[0.3,44.5],"nice":false,"zero":false},"axis":null},"y":{"datum":3226.2,"type":"quantitative","scale":{"domain":[3122.64,3227.92],"nice":false,"zero":false},"axis":null},"text":{"value":"IT-Finance.com"}}},
{"data":{"name":"gridy"},"transform":[{"filter":"indexof([3130,3150,3160,3210,3220], datum.v) >= 0"}],"mark":{"type":"text","align":"left","baseline":"middle","fontSize":10.5,"color":"#000000"},
 "encoding":{"x":{"datum":40.8,"type":"quantitative","scale":{"domain":[0.3,44.5],"nice":false,"zero":false},"axis":null},"y":{"field":"v","type":"quantitative","scale":{"domain":[3122.64,3227.92],"nice":false,"zero":false},"axis":null},"text":{"field":"lab"}}},
{"data":{"name":"cajas"},"mark":{"type":"rule","strokeWidth":1.2},
 "encoding":{"x":{"datum":40.41,"type":"quantitative","scale":{"domain":[0.3,44.5],"nice":false,"zero":false},"axis":null},"x2":{"datum":40.72},"y":{"field":"v","type":"quantitative","scale":{"domain":[3122.64,3227.92],"nice":false,"zero":false},"axis":null},
 "color":{"field":"k","type":"nominal","legend":null,"scale":{"domain":["negro","magenta","morado","morado2","amarillo","verde","oliva","azul","salmon","sube","baja","verdeos","rojo"],"range":["#111111","#dd00dd","#9a10d8","#c010e0","#d6cf00","#33cc00","#8a9a12","#0a0aff","#e8806e","#4dcc3a","#e05858","#1f8a1f","#e03030"]}}}},
{"data":{"name":"cajas"},"transform":[{"filter":"datum.v > 3179.5 || datum.v < 3172"}],"mark":{"type":"tick","orient":"horizontal","size":46,"thickness":15,"stroke":"#6f7f8e","strokeWidth":1,"opacity":1,"fill":{"gradient":"linear","x1":0,"y1":0,"x2":0,"y2":1,"stops":[{"offset":0,"color":"#ffffff"},{"offset":1,"color":"#cdd7e4"}]}},
 "encoding":{"x":{"datum":42.01,"type":"quantitative","scale":{"domain":[0.3,44.5],"nice":false,"zero":false},"axis":null},"y":{"field":"v","type":"quantitative","scale":{"domain":[3122.64,3227.92],"nice":false,"zero":false},"axis":null}}},
{"data":{"name":"cajas"},"transform":[{"filter":"datum.v > 3179.5 || datum.v < 3172"}],"mark":{"type":"text","align":"left","baseline":"middle","fontSize":11},
 "encoding":{"x":{"datum":40.84,"type":"quantitative","scale":{"domain":[0.3,44.5],"nice":false,"zero":false},"axis":null},"y":{"field":"v","type":"quantitative","scale":{"domain":[3122.64,3227.92],"nice":false,"zero":false},"axis":null},"text":{"field":"lab"},
 "color":{"field":"k","type":"nominal","legend":null,"scale":{"domain":["negro","magenta","morado","morado2","amarillo","verde","oliva","azul","salmon","sube","baja","verdeos","rojo"],"range":["#111111","#dd00dd","#9a10d8","#c010e0","#d6cf00","#33cc00","#8a9a12","#0a0aff","#e8806e","#4dcc3a","#e05858","#1f8a1f","#e03030"]}}}},
{"data":{"name":"cajas"},"transform":[{"filter":"datum.v > 3178 && datum.v < 3179.5"}],"mark":{"type":"tick","orient":"horizontal","size":46,"thickness":15,"stroke":"#6f7f8e","strokeWidth":1,"opacity":1,"fill":{"gradient":"linear","x1":0,"y1":0,"x2":0,"y2":1,"stops":[{"offset":0,"color":"#ffffff"},{"offset":1,"color":"#cdd7e4"}]}},
 "encoding":{"x":{"datum":42.01,"type":"quantitative","scale":{"domain":[0.3,44.5],"nice":false,"zero":false},"axis":null},"y":{"field":"v","type":"quantitative","scale":{"domain":[3122.64,3227.92],"nice":false,"zero":false},"axis":null}}},
{"data":{"name":"cajas"},"transform":[{"filter":"datum.v > 3178 && datum.v < 3179.5"}],"mark":{"type":"text","align":"left","baseline":"middle","fontSize":11},
 "encoding":{"x":{"datum":40.84,"type":"quantitative","scale":{"domain":[0.3,44.5],"nice":false,"zero":false},"axis":null},"y":{"field":"v","type":"quantitative","scale":{"domain":[3122.64,3227.92],"nice":false,"zero":false},"axis":null},"text":{"field":"lab"},
 "color":{"field":"k","type":"nominal","legend":null,"scale":{"domain":["negro","magenta","morado","morado2","amarillo","verde","oliva","azul","salmon","sube","baja","verdeos","rojo"],"range":["#111111","#dd00dd","#9a10d8","#c010e0","#d6cf00","#33cc00","#8a9a12","#0a0aff","#e8806e","#4dcc3a","#e05858","#1f8a1f","#e03030"]}}}},
{"data":{"name":"cajas"},"transform":[{"filter":"datum.v > 3175 && datum.v < 3178"}],"mark":{"type":"tick","orient":"horizontal","size":46,"thickness":15,"stroke":"#6f7f8e","strokeWidth":1,"opacity":1,"fill":{"gradient":"linear","x1":0,"y1":0,"x2":0,"y2":1,"stops":[{"offset":0,"color":"#ffffff"},{"offset":1,"color":"#cdd7e4"}]}},
 "encoding":{"x":{"datum":42.01,"type":"quantitative","scale":{"domain":[0.3,44.5],"nice":false,"zero":false},"axis":null},"y":{"field":"v","type":"quantitative","scale":{"domain":[3122.64,3227.92],"nice":false,"zero":false},"axis":null}}},
{"data":{"name":"cajas"},"transform":[{"filter":"datum.v > 3175 && datum.v < 3178"}],"mark":{"type":"text","align":"left","baseline":"middle","fontSize":11},
 "encoding":{"x":{"datum":40.84,"type":"quantitative","scale":{"domain":[0.3,44.5],"nice":false,"zero":false},"axis":null},"y":{"field":"v","type":"quantitative","scale":{"domain":[3122.64,3227.92],"nice":false,"zero":false},"axis":null},"text":{"field":"lab"},
 "color":{"field":"k","type":"nominal","legend":null,"scale":{"domain":["negro","magenta","morado","morado2","amarillo","verde","oliva","azul","salmon","sube","baja","verdeos","rojo"],"range":["#111111","#dd00dd","#9a10d8","#c010e0","#d6cf00","#33cc00","#8a9a12","#0a0aff","#e8806e","#4dcc3a","#e05858","#1f8a1f","#e03030"]}}}},
{"data":{"name":"cajas"},"transform":[{"filter":"datum.v > 3172 && datum.v < 3175"}],"mark":{"type":"tick","orient":"horizontal","size":65,"thickness":20,"stroke":"#6f7f8e","strokeWidth":1,"opacity":1,"fill":{"gradient":"linear","x1":0,"y1":0,"x2":0,"y2":1,"stops":[{"offset":0,"color":"#ffffff"},{"offset":1,"color":"#cdd7e4"}]}},
 "encoding":{"x":{"datum":42.54,"type":"quantitative","scale":{"domain":[0.3,44.5],"nice":false,"zero":false},"axis":null},"y":{"field":"v","type":"quantitative","scale":{"domain":[3122.64,3227.92],"nice":false,"zero":false},"axis":null}}},
{"data":{"name":"cajas"},"transform":[{"filter":"datum.v > 3172 && datum.v < 3175"}],"mark":{"type":"text","align":"left","baseline":"middle","fontSize":16,"fontWeight":"bold"},
 "encoding":{"x":{"datum":40.82,"type":"quantitative","scale":{"domain":[0.3,44.5],"nice":false,"zero":false},"axis":null},"y":{"field":"v","type":"quantitative","scale":{"domain":[3122.64,3227.92],"nice":false,"zero":false},"axis":null},"text":{"field":"lab"},
 "color":{"field":"k","type":"nominal","legend":null,"scale":{"domain":["negro","magenta","morado","morado2","amarillo","verde","oliva","azul","salmon","sube","baja","verdeos","rojo"],"range":["#111111","#dd00dd","#9a10d8","#c010e0","#d6cf00","#33cc00","#8a9a12","#0a0aff","#e8806e","#4dcc3a","#e05858","#1f8a1f","#e03030"]}}}}
]
}
